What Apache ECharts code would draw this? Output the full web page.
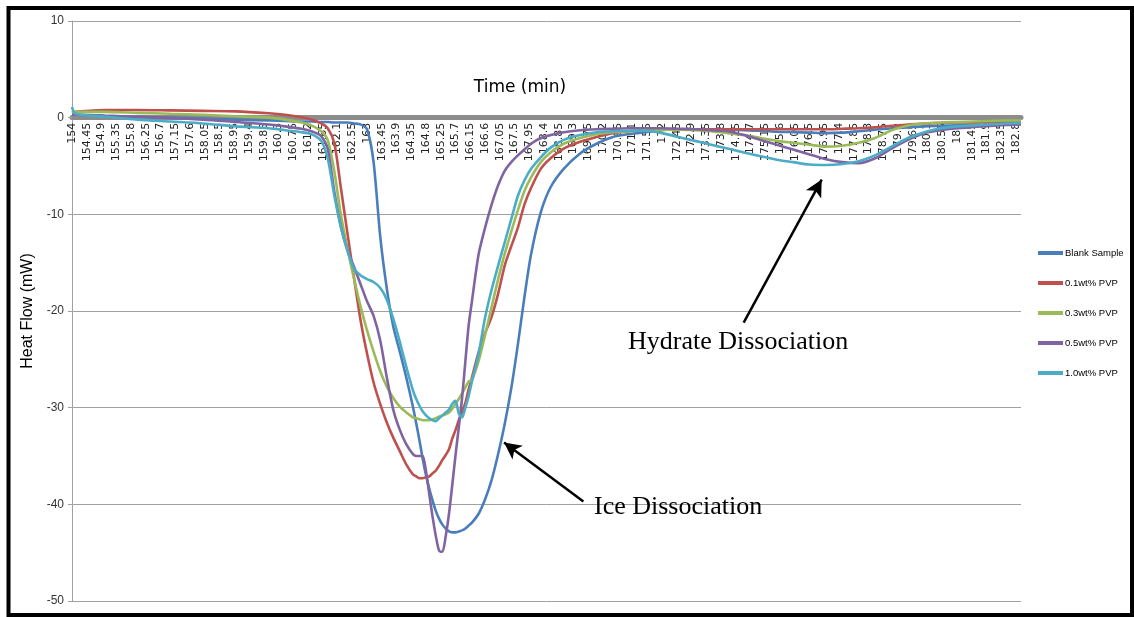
<!DOCTYPE html>
<html>
<head>
<meta charset="utf-8">
<title>Heat Flow vs Time</title>
<script src="https://cdn.jsdelivr.net/npm/echarts@6/dist/echarts.min.js"></script>
<style>
  html, body { margin: 0; padding: 0; background: #ffffff; }
  #chart { width: 1134px; height: 617px; }
</style>
</head>
<body>
<div id="chart"></div>
<script>
// Time axis: first reading, label step and last reading (min)
const T0 = 154;
const tickStep = 0.45;
const tEnd = 182.95;

// Heat-flow axis range (mW)
const yMin = -50;
const yMax = 10;
const yStep = 10;

// Sample times (min), denser through the ice-melting peak
const time = [
  154, 154.1, 155, 156, 157, 158, 159, 160, 160.5, 161, 161.3,
  161.6, 161.8, 162, 162.2, 162.4, 162.6, 162.8, 163, 163.2, 163.4, 163.6, 163.8,
  164, 164.2, 164.4, 164.5, 164.6, 164.7, 164.8, 164.9, 165,
  165.1, 165.2, 165.3, 165.4, 165.5, 165.6, 165.7, 165.8, 165.9, 166, 166.1, 166.2,
  166.4, 166.6, 166.8, 167, 167.2, 167.4, 167.6, 167.8, 168, 168.3, 168.6,
  169, 169.5, 170, 170.5, 171, 171.5, 172, 172.5, 173, 173.5, 174, 174.5,
  175, 175.5, 176, 176.5, 177, 177.5, 178, 178.5, 179, 179.5, 180, 180.5, 181, 181.5, 182, 182.5, 182.95
];

// Heat flow (mW) for each sample
const blankSample = [
  0.3, 0.3, 0.2, 0.1, 0.0, -0.1, -0.2, -0.3, -0.35, -0.4, -0.4,
  -0.45, -0.45, -0.5, -0.5, -0.5, -0.6, -0.7, -1.2, -4.6, -12.2, -17.6, -21.6,
  -24.2, -26.9, -29.9, -31.6, -33.4, -35.3, -37.0, -38.4, -39.6,
  -40.7, -41.5, -42.1, -42.5, -42.8, -42.9, -42.9, -42.8, -42.7, -42.5, -42.2, -41.9,
  -41.0, -39.5, -37.5, -34.8, -31.7, -28.0, -23.5, -18.6, -14.2, -9.8, -7.2,
  -5.3, -3.7, -2.7, -2.0, -1.7, -1.5, -1.3, -1.2, -1.2, -1.2, -1.25, -1.3,
  -1.35, -1.45, -1.5, -1.55, -1.6, -1.55, -1.4, -1.25, -1.1, -1.0, -0.9, -0.85, -0.8, -0.75, -0.7, -0.65, -0.6
];

const pvp01 = [
  0.5, 0.6, 0.8, 0.8, 0.75, 0.7, 0.65, 0.45, 0.3, 0.05, -0.2,
  -0.6, -1.1, -2.6, -7.2, -11.9, -16.5, -20.9, -24.4, -27.4, -29.6, -31.5, -33.1,
  -34.5, -35.9, -36.9, -37.1, -37.3, -37.3, -37.2, -37.1, -36.8,
  -36.5, -36.0, -35.4, -34.9, -34.3, -33.2, -32.3, -31.3, -30.4, -29.5, -28.1, -26.9,
  -24.3, -22.3, -20.6, -18.2, -15.3, -13.3, -11.4, -9.0, -7.3, -5.3, -4.2,
  -3.2, -2.5, -2.0, -1.6, -1.4, -1.3, -1.25, -1.2, -1.2, -1.2, -1.2, -1.2,
  -1.2, -1.2, -1.2, -1.2, -1.2, -1.15, -1.1, -1.0, -0.85, -0.7, -0.6, -0.55, -0.5, -0.5, -0.45, -0.45, -0.45
];

const pvp03 = [
  0.5, 0.6, 0.6, 0.5, 0.4, 0.3, 0.15, 0.0, -0.2, -0.5, -0.8,
  -1.4, -2.3, -5.5, -10.0, -13.5, -16.6, -19.5, -22.0, -24.2, -26.2, -27.8, -29.0,
  -29.9, -30.5, -31.0, -31.1, -31.2, -31.3, -31.3, -31.3, -31.2,
  -31.1, -30.9, -30.8, -30.7, -30.5, -30.1, -29.6, -29.1, -28.5, -27.9, -27.3, -27.1,
  -25.2, -22.5, -19.6, -16.7, -14.1, -11.8, -9.6, -7.6, -6.2, -4.6, -3.6,
  -2.7, -2.1, -1.7, -1.5, -1.4, -1.3, -1.25, -1.25, -1.3, -1.4, -1.6, -1.8,
  -2.1, -2.4, -2.6, -2.8, -3.0, -2.9, -2.6, -2.1, -1.3, -0.8, -0.6, -0.5, -0.45, -0.4, -0.35, -0.3, -0.3
];

const pvp05 = [
  0.3, 0.3, 0.2, 0.1, -0.05, -0.2, -0.45, -0.7, -0.9, -1.15, -1.4,
  -1.9, -3.2, -7.6, -11.2, -13.7, -15.4, -17.2, -19.0, -20.5, -23.0, -26.8, -30.2,
  -32.3, -33.8, -34.8, -35.0, -35.0, -35.0, -36.6, -39.0, -41.3,
  -43.3, -44.8, -44.9, -43.3, -41.0, -38.0, -34.9, -32.0, -29.0, -25.2, -21.5, -19.0,
  -14.2, -11.4, -9.0, -7.0, -5.5, -4.6, -3.9, -3.3, -2.7, -2.1, -1.8,
  -1.5, -1.3, -1.2, -1.15, -1.1, -1.1, -1.1, -1.15, -1.2, -1.3, -1.4, -1.8,
  -2.3, -2.8, -3.3, -3.8, -4.3, -4.6, -4.7, -4.2, -3.2, -2.3, -1.6, -1.3, -1.1, -0.95, -0.85, -0.75, -0.7
];

const pvp10 = [
  1.1, 0.4, 0.1, -0.2, -0.4, -0.6, -0.9, -1.1, -1.3, -1.5, -1.7,
  -2.4, -4.2, -8.0, -11.3, -13.7, -15.6, -16.3, -16.7, -17.0, -17.6, -18.8, -20.8,
  -23.2, -25.8, -28.2, -29.1, -29.8, -30.4, -30.8, -31.1, -31.3,
  -31.4, -31.1, -30.8, -30.5, -30.2, -29.6, -29.3, -30.6, -31.0, -30.0, -28.8, -27.3,
  -24.5, -20.7, -17.8, -15.3, -12.9, -10.5, -8.1, -6.5, -5.3, -4.1, -3.1,
  -2.3, -1.8, -1.5, -1.4, -1.35, -1.35, -1.6, -2.0, -2.4, -2.8, -3.2, -3.6,
  -4.0, -4.35, -4.6, -4.85, -4.9, -4.8, -4.5, -3.9, -3.0, -2.1, -1.5, -1.1, -0.9, -0.8, -0.7, -0.6, -0.55
];

const seriesNames = ['Blank Sample', '0.1wt% PVP', '0.3wt% PVP', '0.5wt% PVP', '1.0wt% PVP'];
const seriesValues = [blankSample, pvp01, pvp03, pvp05, pvp10];
const seriesColors = ['#4a7ebb', '#c0504d', '#9bbb59', '#8064a2', '#4bacc6'];

// Annotation arrows: [time, heat flow] of tail and tip
const hydrateArrow = { tail: [174.49, -21.2], tip: [176.87, -6.4] };
const iceArrow = { tail: [169.6, -39.7], tip: [167.18, -33.6] };

// plot box in pixels
const GRID = { left: 72, right: 113, top: 21, bottom: 16 };
const CHART_H = 617;

const toOffset = t => +(t - T0).toFixed(3);
const pairs = vals => time.map((t, i) => [toOffset(t), vals[i]]);

// the time axis sits on the zero line, so shift it up from the bottom edge
const plotH = CHART_H - GRID.top - GRID.bottom;
const zeroShift = -plotH * (0 - yMin) / (yMax - yMin);

const chart = echarts.init(document.getElementById('chart'), null, { renderer: 'canvas' });

const series = seriesNames.map((name, k) => ({
  name,
  type: 'line',
  data: pairs(seriesValues[k]),
  showSymbol: false,
  symbol: 'none',
  smooth: 0.25,
  lineStyle: { color: seriesColors[k], width: 2.6 },
  itemStyle: { color: seriesColors[k] },
  z: 2 + k
}));

// arrows live on the first series so they share its coordinate system
series[0].markLine = {
  silent: true,
  symbol: ['none', 'arrow'],
  symbolSize: [13, 17],
  label: { show: false },
  lineStyle: { color: '#000', width: 2.5, type: 'solid' },
  emphasis: { disabled: true },
  data: [hydrateArrow, iceArrow].map(a => [
    { coord: [toOffset(a.tail[0]), a.tail[1]] },
    { coord: [toOffset(a.tip[0]), a.tip[1]] }
  ])
};

chart.setOption({
  animation: false,
  backgroundColor: '#ffffff',
  grid: Object.assign({ containLabel: false, outerBoundsMode: 'none' }, GRID),
  legend: {
    data: seriesNames,
    orient: 'vertical',
    left: 1038,
    top: 248,
    padding: 0,
    icon: 'rect',
    itemWidth: 25,
    itemHeight: 4,
    itemGap: 20,
    textStyle: { fontSize: 9.5, color: '#000', fontFamily: '"Liberation Sans", Arial, sans-serif', padding: [0, 0, 0, -3] }
  },
  xAxis: {
    type: 'value',
    position: 'bottom',
    offset: zeroShift,
    min: 0,
    max: toOffset(tEnd),
    interval: tickStep,
    axisLine: { onZero: false, lineStyle: { color: '#8c8c8c', width: 5 } },
    axisTick: { show: false },
    splitLine: { show: false },
    axisLabel: {
      rotate: 90,
      fontSize: 11,
      color: '#222',
      fontFamily: '"DejaVu Sans", sans-serif',
      margin: 5,
      showMaxLabel: false,
      formatter: v => String(+(v + T0).toFixed(2))
    }
  },
  yAxis: {
    type: 'value',
    min: yMin,
    max: yMax,
    interval: yStep,
    name: 'Heat Flow (mW)',
    nameLocation: 'middle',
    nameGap: 36,
    nameMoveOverlap: false,
    nameTextStyle: { fontSize: 16, color: '#000', fontFamily: '"Liberation Sans", Arial, sans-serif' },
    axisLine: { show: true, onZero: false, lineStyle: { color: '#a0a0a0', width: 1 } },
    axisTick: { show: true, length: 4, lineStyle: { color: '#a0a0a0' } },
    axisLabel: { fontSize: 12, color: '#333', margin: 8, fontFamily: '"Liberation Sans", Arial, sans-serif' },
    splitLine: { show: true, lineStyle: { color: '#a0a0a0', width: 1 } }
  },
  series,
  graphic: [
    {
      type: 'text', x: 520, y: 88, z: 50,
      style: { text: 'Time (min)', align: 'center', verticalAlign: 'middle', fill: '#000',
               font: '17px "DejaVu Sans", sans-serif' }
    },
    {
      type: 'text', x: 628, y: 342, z: 50,
      style: { text: 'Hydrate Dissociation', align: 'left', verticalAlign: 'middle', fill: '#000',
               font: '26px "Liberation Serif", "Times New Roman", serif' }
    },
    {
      type: 'text', x: 594, y: 507, z: 50,
      style: { text: 'Ice Dissociation', align: 'left', verticalAlign: 'middle', fill: '#000',
               font: '26px "Liberation Serif", "Times New Roman", serif' }
    },
    {
      type: 'rect', z: 100, silent: true,
      shape: { x: 8.5, y: 8, width: 1123.5, height: 607 },
      style: { fill: 'none', stroke: '#000', lineWidth: 4 }
    }
  ]
});
</script>
</body>
</html>
